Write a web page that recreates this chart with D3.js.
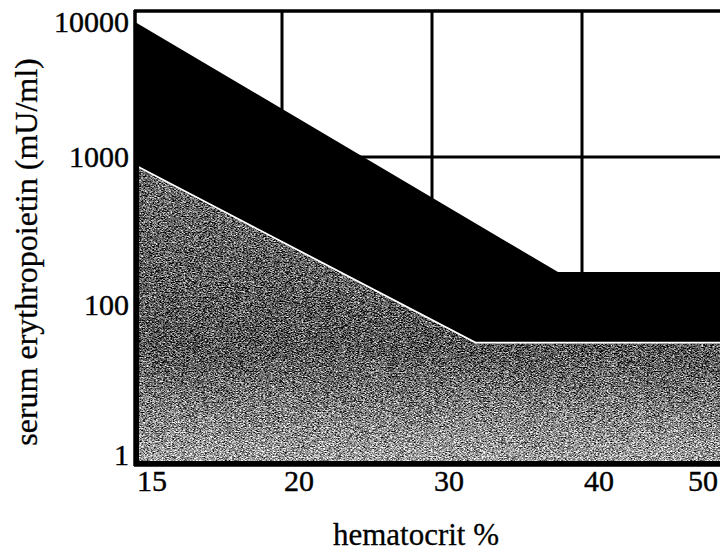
<!DOCTYPE html>
<html>
<head>
<meta charset="utf-8">
<script src="https://cdn.jsdelivr.net/npm/d3@7"></script>
<style>
  html, body { margin: 0; padding: 0; background: #fff; }
  svg { display: block; }
  text { font-family: "Liberation Serif", "DejaVu Serif", serif; fill: #000; }
</style>
</head>
<body>
<svg id="chart" width="720" height="553"></svg>
<script>
// ---- data ----
const xTicks = [15, 20, 30, 40, 50];
const yTicks = [1, 100, 1000, 10000];
const yTickLabels = ["1", "100", "1000", "10000"];

// upper edge of the black band
const upperHct = [15, 38.4, 52];
const upperEpo = [10000, 167, 167];
// lower edge of the black band / top of the grey region
const lowerHct = [15, 32.9, 52];
const lowerEpo = [883, 31.6, 31.6];

const xTitle = "hematocrit %";
const yTitle = "serum erythropoietin (mU/ml)";

// ---- layout ----
const W = 720, H = 553;
const plot = { left: 135, top: 11, bottom: 465 };

const svg = d3.select("#chart");

const x = d3.scaleLinear().domain(xTicks).range([135, 282, 432, 582, 732]);
const y = d3.scaleLog().domain(yTicks).range([455, 305, 157, 22]);

const upper = upperHct.map((h, i) => ({ h, v: upperEpo[i] }));
const lower = lowerHct.map((h, i) => ({ h, v: lowerEpo[i] }));

// defs: grain texture for grey region
const defs = svg.append("defs");
const grad = defs.append("linearGradient")
  .attr("id", "greyGrad").attr("gradientUnits", "userSpaceOnUse")
  .attr("x1", 0).attr("y1", 160).attr("x2", 0).attr("y2", 462);
grad.append("stop").attr("offset", "0%").attr("stop-color", "#6a6a6a");
grad.append("stop").attr("offset", "62%").attr("stop-color", "#555");
grad.append("stop").attr("offset", "100%").attr("stop-color", "#a0a0a0");

const f = defs.append("filter").attr("id", "grain")
  .attr("x", 0).attr("y", 0).attr("width", 1).attr("height", 1)
  .attr("color-interpolation-filters", "sRGB");
f.append("feTurbulence").attr("type", "fractalNoise")
  .attr("baseFrequency", "0.55 1.2").attr("numOctaves", 2).attr("seed", 7).attr("result", "noise");
f.append("feColorMatrix").attr("in", "noise").attr("type", "matrix")
  .attr("values", "1 0 0 0 0  1 0 0 0 0  1 0 0 0 0  0 0 0 0 1").attr("result", "gnoise");
f.append("feComposite").attr("in", "SourceGraphic").attr("in2", "gnoise")
  .attr("operator", "arithmetic").attr("k1", 0).attr("k2", 1).attr("k3", 1.9).attr("k4", -0.95)
  .attr("result", "mix");
f.append("feComposite").attr("in", "mix").attr("in2", "SourceGraphic").attr("operator", "in");

defs.append("clipPath").attr("id", "greyClip")
  .append("rect").attr("x", plot.left + 4).attr("y", 0)
  .attr("width", W - plot.left).attr("height", plot.bottom - 4);

defs.append("clipPath").attr("id", "plotClip")
  .append("rect").attr("x", plot.left).attr("y", plot.top)
  .attr("width", W - plot.left).attr("height", plot.bottom - plot.top);

// ---- grid ----
const grid = svg.append("g").attr("stroke", "#000").attr("stroke-width", 3);
grid.selectAll("line.v").data(xTicks.slice(1, -1)).join("line")
  .attr("x1", d => x(d)).attr("x2", d => x(d))
  .attr("y1", plot.top).attr("y2", plot.bottom);
grid.selectAll("line.h").data(yTicks.slice(1, -1)).join("line")
  .attr("x1", plot.left).attr("x2", W)
  .attr("y1", d => y(d)).attr("y2", d => y(d));

// ---- black band ----
const plotG = svg.append("g").attr("clip-path", "url(#plotClip)");
plotG.append("path")
  .datum(upper)
  .attr("d", d3.area().x(d => x(d.h)).y0(plot.bottom).y1(d => y(d.v)))
  .attr("fill", "#000");

// ---- grey textured region ----
const greyG = plotG.append("g").attr("clip-path", "url(#greyClip)");
greyG.append("path")
  .datum(lower)
  .attr("d", d3.area().x(d => x(d.h)).y0(plot.bottom).y1(d => y(d.v)))
  .attr("fill", "#fff");
greyG.append("path")
  .datum(lower)
  .attr("d", d3.area().x(d => x(d.h)).y0(plot.bottom).y1(d => y(d.v) + 1))
  .attr("fill", "url(#greyGrad)")
  .attr("filter", "url(#grain)");
greyG.append("path")
  .datum(lower)
  .attr("d", d3.line().x(d => x(d.h)).y(d => y(d.v)))
  .attr("fill", "none").attr("stroke", "#fff").attr("stroke-width", 1.6);

// ---- frame ----
const frame = svg.append("g").attr("stroke", "#000").attr("stroke-width", 3.5).attr("fill", "none");
frame.append("line").attr("x1", plot.left - 1).attr("x2", W).attr("y1", plot.top).attr("y2", plot.top);
frame.append("line").attr("x1", plot.left).attr("x2", plot.left).attr("y1", plot.top - 1).attr("y2", plot.bottom + 1);
frame.append("line").attr("x1", plot.left - 1).attr("x2", W).attr("y1", plot.bottom).attr("y2", plot.bottom);

// ---- tick labels ----
svg.append("g").selectAll("text").data(yTicks).join("text")
  .attr("x", plot.left - 6)
  .attr("y", d => y(d))
  .attr("dy", "0.33em")
  .attr("text-anchor", "end")
  .attr("font-size", 30)
  .attr("stroke", "#000").attr("stroke-width", 0.4)
  .text((d, i) => yTickLabels[i]);

svg.append("g").selectAll("text").data(xTicks).join("text")
  .attr("x", d => Math.min(x(d) + 17, W - 17))
  .attr("y", 491)
  .attr("text-anchor", "middle")
  .attr("font-size", 30)
  .attr("stroke", "#000").attr("stroke-width", 0.4)
  .text(d => d);

// ---- axis titles ----
svg.append("text")
  .attr("x", 416).attr("y", 545)
  .attr("text-anchor", "middle")
  .attr("font-size", 31)
  .attr("stroke", "#000").attr("stroke-width", 0.3)
  .text(xTitle);

svg.append("text")
  .attr("transform", "translate(37,252) rotate(-90)")
  .attr("text-anchor", "middle")
  .attr("font-size", 32)
  .attr("stroke", "#000").attr("stroke-width", 0.3)
  .text(yTitle);
</script>
</body>
</html>
